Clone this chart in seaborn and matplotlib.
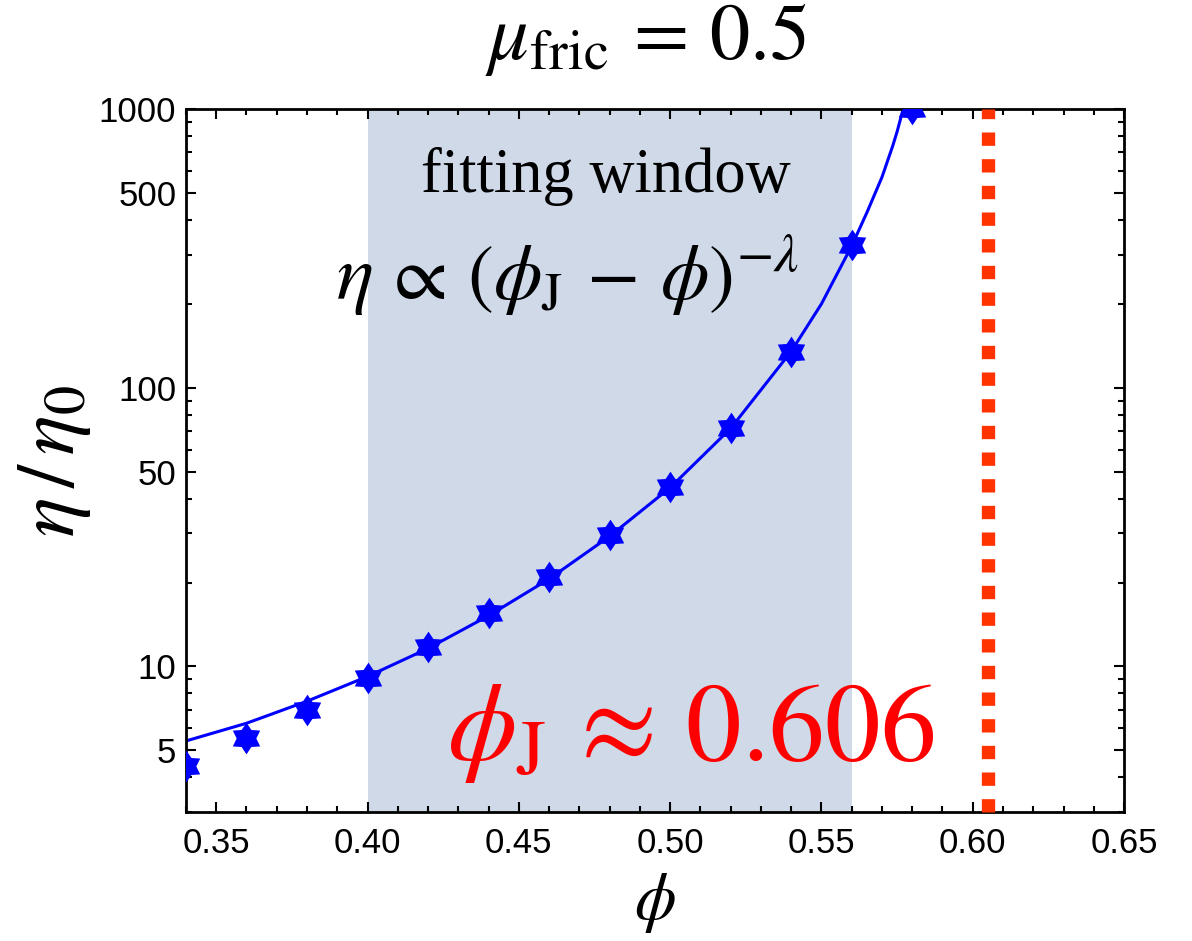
import numpy as np
import matplotlib
matplotlib.use('Agg')
import matplotlib.pyplot as plt
import seaborn as sns
from matplotlib.path import Path
from matplotlib.ticker import FixedLocator, NullFormatter

# --- data ---
phi_data = [0.34, 0.36, 0.38, 0.40, 0.42, 0.44, 0.46, 0.48, 0.50, 0.52, 0.54, 0.56, 0.58]
eta_data = [4.4, 5.55, 7.0, 9.1, 11.7, 15.5, 20.9, 29.5, 44.0, 71.5, 134, 325, 1000]

# fitted power-law curve, sampled from the figure
phi_fit = [0.34, 0.36, 0.38, 0.40, 0.42, 0.44, 0.46, 0.48, 0.50, 0.52, 0.54, 0.55,
           0.56, 0.565, 0.57, 0.5735, 0.575, 0.577, 0.578]
eta_fit = [5.4, 6.25, 7.5, 9.2, 11.6, 15.2, 20.6, 29.3, 43.8, 71.5, 135, 200,
           323, 425, 570, 735, 830, 1000, 1090]

window_lo, window_hi = 0.40, 0.56
phi_jam = 0.605

xticks = [0.35, 0.40, 0.45, 0.50, 0.55, 0.60, 0.65]
xtick_labels = ['0.35', '0.40', '0.45', '0.50', '0.55', '0.60', '0.65']
xminor = [0.34, 0.36, 0.37, 0.38, 0.39, 0.41, 0.42, 0.43, 0.44, 0.46, 0.47, 0.48, 0.49,
          0.51, 0.52, 0.53, 0.54, 0.56, 0.57, 0.58, 0.59, 0.61, 0.62, 0.63, 0.64]
yticks = [5, 10, 50, 100, 500, 1000]
ytick_labels = ['5', '10', '50', '100', '500', '1000']
yminor = [3, 4, 6, 7, 8, 9, 20, 30, 40, 60, 70, 80, 90, 200, 300, 400, 600, 700, 800, 900]

# fat six-pointed star marker (like Mathematica's)
ang = np.pi / 2 + np.arange(12) * np.pi / 6
rad = np.where(np.arange(12) % 2 == 0, 1.0, 0.62)
verts = np.column_stack([rad * np.cos(ang), rad * np.sin(ang)])
star6 = Path(np.vstack([verts, verts[:1]]), closed=True)

# --- style ---
sns.set_style('ticks')
plt.rcParams['font.family'] = ['Liberation Sans', 'DejaVu Sans']
plt.rcParams['mathtext.fontset'] = 'stix'
plt.rcParams['text.color'] = 'black'
plt.rcParams['axes.labelcolor'] = 'black'
plt.rcParams['xtick.color'] = 'black'
plt.rcParams['ytick.color'] = 'black'

fig = plt.figure(figsize=(11.92, 9.41), dpi=100)
ax = fig.add_axes([0.156, 0.137, 0.787, 0.747])

# fitting window
ax.axvspan(window_lo, window_hi, color='#CFD9E8', lw=0, zorder=0)

# fit line + data
sns.lineplot(x=phi_fit, y=eta_fit, ax=ax, color='#0000FF', lw=2.2,
             sort=False, estimator=None, zorder=2)
sns.scatterplot(x=phi_data, y=eta_data, ax=ax, marker=star6, s=520,
                color='#0000FF', edgecolor='#0000FF', linewidth=0, zorder=3)

# jamming point
ax.axvline(phi_jam, color='#FF3300', lw=9.6, dashes=(1, 1),
           dash_capstyle='butt', clip_on=False, zorder=4)

ax.set_yscale('log')
ax.set_xlim(0.34, 0.65)
ax.set_ylim(3, 1000)

ax.xaxis.set_major_locator(FixedLocator(xticks))
ax.set_xticklabels(xtick_labels)
ax.xaxis.set_minor_locator(FixedLocator(xminor))
ax.yaxis.set_major_locator(FixedLocator(yticks))
ax.set_yticklabels(ytick_labels)
ax.yaxis.set_minor_locator(FixedLocator(yminor))
ax.yaxis.set_minor_formatter(NullFormatter())

ax.tick_params(which='both', direction='in', top=True, right=True,
               width=1.5, color='black')
ax.tick_params(which='major', length=7.5, labelsize=25)
ax.tick_params(which='minor', length=4.3)
ax.tick_params(axis='x', which='major', pad=11)
ax.tick_params(axis='y', which='major', pad=7)
for sp in ax.spines.values():
    sp.set_linewidth(2)
    sp.set_color('black')

# --- labels and annotations ---
ax.set_xlabel(r'$\phi$', fontsize=48, labelpad=8)
ax.set_ylabel(r'$\eta\,/\,\eta_0$', fontsize=60, labelpad=4)

fig.text(0.542, 0.937, r'$\mu_{\mathrm{fric}}\,=\,0.5$', fontsize=58,
         ha='center', va='baseline')

ax.text(0.448, 0.882, 'fitting window', transform=ax.transAxes,
        fontsize=45, family='Liberation Serif', ha='center', va='baseline')
ax.text(0.407, 0.728, r'$\eta\,\propto\,(\phi_{\mathrm{J}}\,-\,\phi)^{-\lambda}$',
        transform=ax.transAxes, fontsize=56, ha='center', va='baseline')
ax.text(0.538, 0.074, r'$\phi_{\mathrm{J}}\,\approx\,0.606$', transform=ax.transAxes,
        fontsize=80, color='#FF0000', ha='center', va='baseline')

fig.savefig('out.png', dpi=100)
